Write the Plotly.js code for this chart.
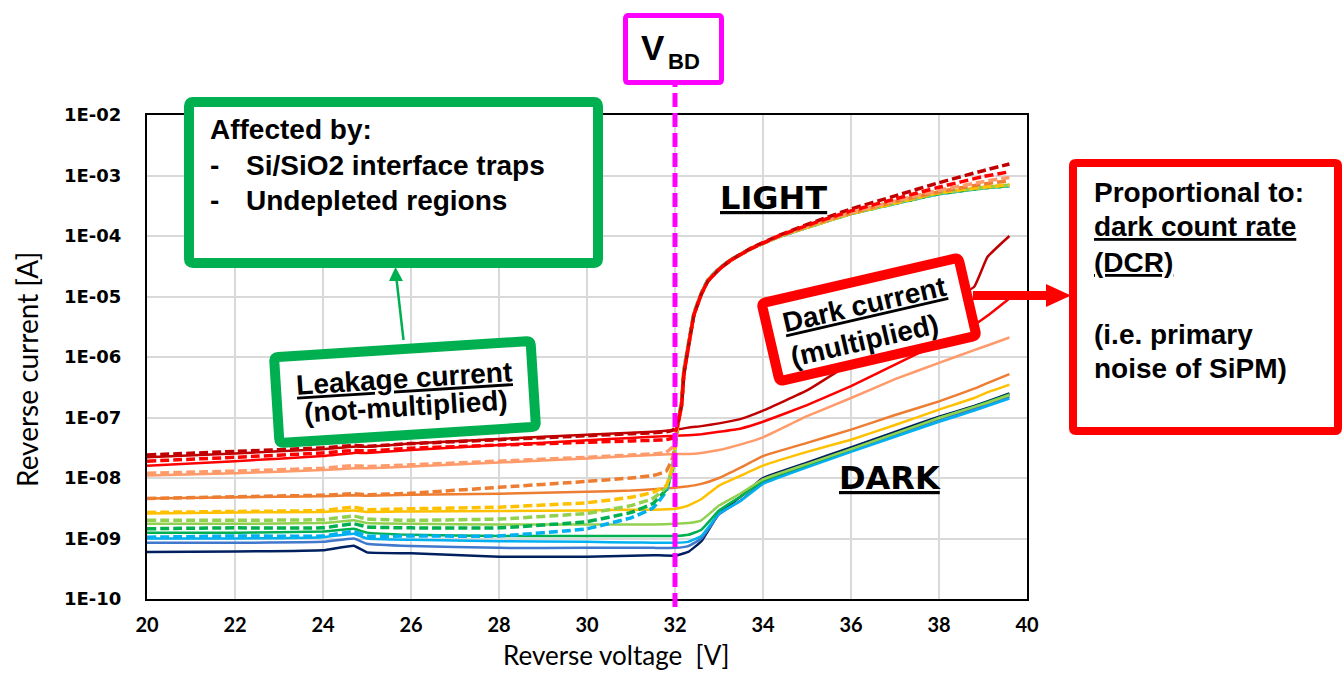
<!DOCTYPE html>
<html>
<head>
<meta charset="utf-8">
<script src="https://cdn.plot.ly/plotly-3.0.1.min.js"></script>
<style>
  html, body { margin: 0; padding: 0; background: #ffffff; }
  #chart { width: 1342px; height: 673px; }
</style>
</head>
<body>
<div id="chart"></div>
<script>
// ---- Reverse-bias I-V data of the SiPM samples (A vs V) ----

// breakdown voltage marker
const breakdownVoltage = 32;

// voltage grid of the illuminated (LIGHT) sweeps
const voltageLight = [20, 22, 24, 24.7, 25, 26, 28, 30, 31, 31.5, 31.8, 31.95, 32.05, 32.15, 32.2, 32.3,
  32.43, 32.6, 32.75, 33, 33.25, 33.75, 34.4, 35.2, 36, 37, 38, 39, 39.6];

// voltage grid of the DARK sweeps
const voltageDark = [20, 22, 24, 24.7, 25, 26, 28, 30, 31, 31.5, 32, 32.3, 32.6, 33, 33.5, 34, 35, 36, 37,
  38, 38.8, 39.1, 39.6];

// LIGHT sweeps (dashed)
const darkRedLight = [2.4e-8, 2.75e-8, 3.15e-8, 3.45e-8, 3.35e-8, 3.7e-8, 4.3e-8, 5.0e-8, 5.4e-8, 5.6e-8,
  5.8e-8, 6.2e-8, 7.5e-8, 1.6e-7, 5e-7, 1.4e-6, 4.9e-6, 1.1e-5, 1.8e-5, 2.8e-5, 3.9e-5, 6.4e-5, 1.05e-4,
  1.75e-4, 2.8e-4, 4.6e-4, 7.6e-4, 1.2e-3, 1.55e-3];
const redLight = [1.9e-8, 2.2e-8, 2.6e-8, 2.85e-8, 2.8e-8, 3.1e-8, 3.5e-8, 3.9e-8, 4.1e-8, 4.2e-8, 4.3e-8,
  4.6e-8, 7e-8, 1.6e-7, 5e-7, 1.4e-6, 4.9e-6, 1.1e-5, 1.8e-5, 2.8e-5, 3.9e-5, 6.3e-5, 1.03e-4, 1.68e-4,
  2.6e-4, 4.1e-4, 6.4e-4, 9.6e-4, 1.15e-3];
const salmonLight = [1.2e-8, 1.3e-8, 1.45e-8, 1.6e-8, 1.55e-8, 1.65e-8, 1.9e-8, 2.2e-8, 2.4e-8, 2.5e-8,
  2.65e-8, 3.3e-8, 6.5e-8, 1.7e-7, 5.2e-7, 1.45e-6, 5e-6, 1.1e-5, 1.8e-5, 2.8e-5, 3.9e-5, 6.3e-5, 1.02e-4,
  1.63e-4, 2.45e-4, 3.8e-4, 5.7e-4, 7.9e-4, 9.3e-4];
const orangeLight = [4.6e-9, 4.9e-9, 5.2e-9, 5.5e-9, 5.3e-9, 5.6e-9, 7.0e-9, 8.8e-9, 1.0e-8, 1.1e-8, 1.3e-8,
  2.2e-8, 6.5e-8, 1.7e-7, 5.2e-7, 1.45e-6, 5e-6, 1.1e-5, 1.8e-5, 2.8e-5, 3.9e-5, 6.3e-5, 1.01e-4, 1.6e-4,
  2.4e-4, 3.7e-4, 5.4e-4, 7.2e-4, 8.2e-4];
const yellowLight = [2.7e-9, 2.8e-9, 2.9e-9, 3.3e-9, 3.0e-9, 3.1e-9, 3.3e-9, 3.9e-9, 4.8e-9, 5.8e-9, 7.5e-9,
  1.6e-8, 6.5e-8, 1.8e-7, 5.5e-7, 1.5e-6, 5.1e-6, 1.12e-5, 1.85e-5, 2.85e-5, 3.95e-5, 6.3e-5, 1.0e-4,
  1.55e-4, 2.35e-4, 3.5e-4, 5.2e-4, 6.4e-4, 7.0e-4];
const lightGreenLight = [2.0e-9, 2.0e-9, 2.05e-9, 2.35e-9, 2.1e-9, 2.0e-9, 2.1e-9, 2.6e-9, 3.5e-9, 4.6e-9,
  7.0e-9, 1.5e-8, 6.5e-8, 1.8e-7, 5.5e-7, 1.5e-6, 5.1e-6, 1.12e-5, 1.85e-5, 2.85e-5, 3.95e-5, 6.3e-5,
  1.0e-4, 1.55e-4, 2.35e-4, 3.5e-4, 5.1e-4, 6.3e-4, 6.9e-4];
const greenLight = [1.45e-9, 1.5e-9, 1.5e-9, 1.75e-9, 1.55e-9, 1.5e-9, 1.5e-9, 1.9e-9, 2.7e-9, 3.8e-9,
  6.5e-9, 1.5e-8, 6.5e-8, 1.8e-7, 5.5e-7, 1.5e-6, 5.1e-6, 1.12e-5, 1.85e-5, 2.85e-5, 3.95e-5, 6.3e-5,
  1.0e-4, 1.55e-4, 2.35e-4, 3.45e-4, 5.0e-4, 6.2e-4, 6.8e-4];
const lightBlueLight = [1.05e-9, 1.1e-9, 1.1e-9, 1.3e-9, 1.1e-9, 1.1e-9, 1.1e-9, 1.45e-9, 2.2e-9, 3.2e-9,
  6.0e-9, 1.6e-8, 7e-8, 1.9e-7, 6e-7, 1.6e-6, 5.3e-6, 1.15e-5, 1.9e-5, 2.9e-5, 4.0e-5, 6.3e-5, 1.0e-4,
  1.55e-4, 2.35e-4, 3.45e-4, 5.0e-4, 6.2e-4, 6.7e-4];

// DARK sweeps (solid)
const darkRedDark = [2.2e-8, 2.55e-8, 3.0e-8, 3.3e-8, 3.3e-8, 3.7e-8, 4.4e-8, 5.2e-8, 5.6e-8, 5.8e-8, 6.2e-8,
  6.8e-8, 7.2e-8, 8.0e-8, 9.5e-8, 1.3e-7, 2.8e-7, 8.0e-7, 2.3e-6, 6.6e-6, 1.45e-5, 4.5e-5, 1.0e-4];
const redDark = [1.6e-8, 1.9e-8, 2.3e-8, 2.6e-8, 2.6e-8, 2.9e-8, 3.5e-8, 4.2e-8, 4.6e-8, 4.8e-8, 5.0e-8,
  5.1e-8, 5.3e-8, 5.8e-8, 6.6e-8, 8.5e-8, 1.6e-7, 3.3e-7, 7.5e-7, 1.7e-6, 3.4e-6, 4.8e-6, 9.3e-6];
const salmonDark = [1.1e-8, 1.2e-8, 1.35e-8, 1.45e-8, 1.45e-8, 1.55e-8, 1.8e-8, 2.1e-8, 2.3e-8, 2.4e-8,
  2.5e-8, 2.5e-8, 2.6e-8, 2.9e-8, 3.6e-8, 4.7e-8, 1.05e-7, 2.1e-7, 4.3e-7, 8.0e-7, 1.3e-6, 1.55e-6, 2.1e-6];
const orangeDark = [4.6e-9, 4.8e-9, 5.0e-9, 5.2e-9, 5.1e-9, 5.3e-9, 5.5e-9, 5.9e-9, 6.2e-9, 6.5e-9, 6.9e-9,
  7.3e-9, 8.0e-9, 1.0e-8, 1.5e-8, 2.3e-8, 3.8e-8, 6.3e-8, 1.1e-7, 1.85e-7, 3.0e-7, 3.7e-7, 5.2e-7];
const yellowDark = [2.6e-9, 2.7e-9, 2.75e-9, 2.9e-9, 2.75e-9, 2.8e-9, 2.85e-9, 2.9e-9, 3.0e-9, 3.0e-9, 3.1e-9,
  3.5e-9, 4.5e-9, 7.5e-9, 1.1e-8, 1.6e-8, 2.7e-8, 4.3e-8, 7.5e-8, 1.35e-7, 2.1e-7, 2.6e-7, 3.5e-7];
const lightGreenDark = [1.75e-9, 1.75e-9, 1.8e-9, 2.0e-9, 1.8e-9, 1.75e-9, 1.7e-9, 1.7e-9, 1.7e-9, 1.7e-9,
  1.75e-9, 1.8e-9, 2.0e-9, 3.5e-9, 5.6e-9, 9.5e-9, 1.7e-8, 3.0e-8, 5.4e-8, 9.8e-8, 1.5e-7, 1.75e-7, 2.35e-7];
const greenDark = [1.25e-9, 1.25e-9, 1.3e-9, 1.45e-9, 1.25e-9, 1.15e-9, 1.1e-9, 1.1e-9, 1.1e-9, 1.1e-9,
  1.1e-9, 1.15e-9, 1.4e-9, 2.9e-9, 5.0e-9, 9.0e-9, 1.65e-8, 3.0e-8, 5.4e-8, 9.8e-8, 1.5e-7, 1.8e-7, 2.4e-7];
const lightBlueDark = [1.0e-9, 1.0e-9, 1.05e-9, 1.2e-9, 1.0e-9, 9.5e-10, 9.0e-10, 8.8e-10, 8.6e-10, 8.5e-10,
  8.5e-10, 8.8e-10, 1.1e-9, 2.6e-9, 4.2e-9, 8.0e-9, 1.5e-8, 2.7e-8, 4.8e-8, 8.5e-8, 1.3e-7, 1.55e-7, 2.05e-7];
const blueDark = [8.5e-10, 8.5e-10, 8.8e-10, 1.0e-9, 8.2e-10, 7.5e-10, 7.0e-10, 7.0e-10, 7.0e-10, 7.0e-10,
  7.0e-10, 7.5e-10, 1.0e-9, 2.5e-9, 4.3e-9, 8.5e-9, 1.6e-8, 2.9e-8, 5.2e-8, 9.3e-8, 1.4e-7, 1.65e-7, 2.2e-7];
const navyDark = [6.0e-10, 6.1e-10, 6.4e-10, 7.6e-10, 5.9e-10, 5.7e-10, 5.0e-10, 5.0e-10, 5.2e-10, 5.3e-10,
  5.2e-10, 6.0e-10, 9.0e-10, 2.6e-9, 5.0e-9, 1.0e-8, 1.8e-8, 3.2e-8, 5.8e-8, 1.03e-7, 1.55e-7, 1.85e-7, 2.5e-7];

// y-axis decades and their labels
const currentTicks = [1e-10, 1e-9, 1e-8, 1e-7, 1e-6, 1e-5, 1e-4, 1e-3, 1e-2];
const currentTickLabels = ['1E-10', '1E-09', '1E-08', '1E-07', '1E-06', '1E-05', '1E-04', '1E-03', '1E-02'];

// ---- styling ----
const COLORS = {
  darkRed: '#C00000', red: '#FF0000', salmon: '#FF9A6A', orange: '#ED7D31', yellow: '#FFC000',
  lightGreen: '#92D050', green: '#00B050', lightBlue: '#00B0F0', blue: '#3F78CC', navy: '#002060'
};
const GREEN_BOX = '#00B050';
const RED_BOX = '#FF0000';
const MAGENTA = '#FF00FF';
const TEXT_FONT = 'Liberation Sans, Arial, sans-serif';

// plot area in page pixels
const PLOT = { left: 147, right: 1027, top: 115, bottom: 599 };
const W = 1342, H = 673;
const px = x => (x - PLOT.left) / (PLOT.right - PLOT.left);
const py = y => (PLOT.bottom - y) / (PLOT.bottom - PLOT.top);

// rounded rectangle (optionally rotated) as an SVG path in paper coordinates
function boxPath(cx, cy, w, h, r, angleDeg) {
  const a = (angleDeg || 0) * Math.PI / 180;
  const c = Math.cos(a), s = Math.sin(a);
  const P = (u, v) => {
    const x = cx + u * c - v * s, y = cy + u * s + v * c;
    return px(x).toFixed(5) + ',' + py(y).toFixed(5);
  };
  const hw = w / 2, hh = h / 2;
  return 'M' + P(-hw + r, -hh) + ' L' + P(hw - r, -hh) + ' Q' + P(hw, -hh) + ' ' + P(hw, -hh + r) +
    ' L' + P(hw, hh - r) + ' Q' + P(hw, hh) + ' ' + P(hw - r, hh) +
    ' L' + P(-hw + r, hh) + ' Q' + P(-hw, hh) + ' ' + P(-hw, hh - r) +
    ' L' + P(-hw, -hh + r) + ' Q' + P(-hw, -hh) + ' ' + P(-hw + r, -hh) + ' Z';
}
// point offset (u, v) in a rotated frame centred on (cx, cy)
function rotPoint(cx, cy, u, v, angleDeg) {
  const a = angleDeg * Math.PI / 180;
  return [cx + u * Math.cos(a) - v * Math.sin(a), cy + u * Math.sin(a) + v * Math.cos(a)];
}
function polyPath(points) {
  return points.map((p, i) => (i ? 'L' : 'M') + px(p[0]).toFixed(5) + ',' + py(p[1]).toFixed(5)).join(' ') + ' Z';
}
function textNote(text, x, y, size, opts) {
  opts = opts || {};
  return {
    xref: 'paper', yref: 'paper', x: px(x), y: py(y), text: text, showarrow: false,
    xanchor: opts.xanchor || 'center', yanchor: 'middle', borderpad: 0,
    textangle: opts.angle || 0,
    font: { family: opts.family || TEXT_FONT, size: size, color: '#000000', weight: opts.weight || 'bold' }
  };
}

// ---- traces ----
function darkTrace(values, color) {
  return { x: voltageDark, y: values, type: 'scatter', mode: 'lines', hoverinfo: 'skip',
    line: { color: color, width: 2.5, shape: 'spline', smoothing: 0.3 } };
}
function lightTrace(values, color) {
  return { x: voltageLight, y: values, type: 'scatter', mode: 'lines', hoverinfo: 'skip',
    line: { color: color, width: 3.5, dash: '9px,4px', shape: 'spline', smoothing: 0.3 } };
}

const traces = [
  darkTrace(navyDark, COLORS.navy),
  darkTrace(blueDark, COLORS.blue),
  darkTrace(lightBlueDark, COLORS.lightBlue),
  darkTrace(greenDark, COLORS.green),
  darkTrace(lightGreenDark, COLORS.lightGreen),
  darkTrace(yellowDark, COLORS.yellow),
  darkTrace(orangeDark, COLORS.orange),
  darkTrace(salmonDark, COLORS.salmon),
  darkTrace(redDark, COLORS.red),
  darkTrace(darkRedDark, COLORS.darkRed),
  lightTrace(lightBlueLight, COLORS.lightBlue),
  lightTrace(greenLight, COLORS.green),
  lightTrace(lightGreenLight, COLORS.lightGreen),
  lightTrace(yellowLight, COLORS.yellow),
  lightTrace(orangeLight, COLORS.orange),
  lightTrace(salmonLight, COLORS.salmon),
  lightTrace(darkRedLight, COLORS.darkRed),
  lightTrace(redLight, COLORS.red)
];

// ---- callout boxes and arrows ----
const LEAK = { cx: 405, cy: 392, w: 257, h: 86, angle: -3.6 };
const DARKBOX = { cx: 869, cy: 319.5, w: 202, h: 80, angle: -13 };

const shapes = [
  // breakdown voltage marker
  { type: 'line', xref: 'x', yref: 'paper', x0: breakdownVoltage, x1: breakdownVoltage,
    y0: py(607), y1: py(84), layer: 'above', line: { color: MAGENTA, width: 5, dash: '14px,6px' } },
  { type: 'path', xref: 'paper', yref: 'paper', layer: 'above', path: boxPath(673.5, 49, 96, 67, 3, 0),
    fillcolor: '#ffffff', line: { color: MAGENTA, width: 5 } },
  // "Affected by" box
  { type: 'path', xref: 'paper', yref: 'paper', layer: 'above', path: boxPath(393.5, 182.5, 409, 161, 4, 0),
    fillcolor: '#ffffff', line: { color: GREEN_BOX, width: 10 } },
  // arrow from leakage box up to "Affected by"
  { type: 'line', xref: 'paper', yref: 'paper', layer: 'above', x0: px(403.5), y0: py(340), x1: px(396.5), y1: py(279),
    line: { color: GREEN_BOX, width: 2.5 } },
  { type: 'path', xref: 'paper', yref: 'paper', layer: 'above',
    path: polyPath([[389, 281], [403, 281], [395.5, 267]]), fillcolor: GREEN_BOX, line: { width: 0 } },
  // leakage current box
  { type: 'path', xref: 'paper', yref: 'paper', layer: 'above',
    path: boxPath(LEAK.cx, LEAK.cy, LEAK.w, LEAK.h, 4, LEAK.angle),
    fillcolor: '#ffffff', line: { color: GREEN_BOX, width: 10 } },
  // dark current box
  { type: 'path', xref: 'paper', yref: 'paper', layer: 'above',
    path: boxPath(DARKBOX.cx, DARKBOX.cy, DARKBOX.w, DARKBOX.h, 4, DARKBOX.angle),
    fillcolor: '#ffffff', line: { color: RED_BOX, width: 10 } },
  // arrow to the DCR box
  { type: 'line', xref: 'paper', yref: 'paper', layer: 'above', x0: px(973), y0: py(295.5), x1: px(1050), y1: py(295.5),
    line: { color: RED_BOX, width: 9 } },
  { type: 'path', xref: 'paper', yref: 'paper', layer: 'above',
    path: polyPath([[1046, 284], [1046, 307], [1071, 295.5]]), fillcolor: RED_BOX, line: { width: 0 } },
  // DCR box
  { type: 'path', xref: 'paper', yref: 'paper', layer: 'above', path: boxPath(1205.5, 297, 265, 268, 3, 0),
    fillcolor: '#ffffff', line: { color: RED_BOX, width: 8 } }
];

const leak1 = rotPoint(LEAK.cx, LEAK.cy, 0, -14, LEAK.angle);
const leak2 = rotPoint(LEAK.cx, LEAK.cy, 0, 15, LEAK.angle);
const dark1 = rotPoint(DARKBOX.cx, DARKBOX.cy, -1, -16, DARKBOX.angle);
const dark2 = rotPoint(DARKBOX.cx, DARKBOX.cy, -9, 19, DARKBOX.angle);
const NB = '\u00a0';

const annotations = [
  // axis titles
  textNote('Reverse current [A]', 27, 370, 28, { angle: -90, family: 'Lato, sans-serif', weight: 'normal' }),
  textNote('Reverse voltage' + NB + NB + '[V]', 616, 655, 26, { family: 'Lato, sans-serif', weight: 'normal' }),
  // breakdown label
  textNote('V', 653, 47, 35),
  textNote('BD', 684, 61, 22),
  // "Affected by" box
  textNote('Affected by:', 209, 129, 28, { xanchor: 'left' }),
  textNote('-', 209, 165, 28, { xanchor: 'left' }),
  textNote('Si/SiO2 interface traps', 245, 165, 28, { xanchor: 'left' }),
  textNote('-', 209, 200, 28, { xanchor: 'left' }),
  textNote('Undepleted regions', 245, 200, 28, { xanchor: 'left' }),
  // leakage box
  textNote('<u>Leakage current</u>', leak1[0], leak1[1], 28, { angle: LEAK.angle }),
  textNote('(not-multiplied)', leak2[0], leak2[1], 28, { angle: LEAK.angle }),
  // dark current box
  textNote('<u>Dark current</u>', dark1[0], dark1[1], 28, { angle: DARKBOX.angle }),
  textNote('(multiplied)', dark2[0], dark2[1], 28, { angle: DARKBOX.angle }),
  // DCR box
  textNote('Proportional to:', 1093, 192, 28, { xanchor: 'left' }),
  textNote('<u>dark count rate</u>', 1093, 226, 28, { xanchor: 'left' }),
  textNote('<u>(DCR)</u>', 1093, 262, 28, { xanchor: 'left' }),
  textNote('(i.e. primary', 1093, 334, 28, { xanchor: 'left' }),
  textNote('noise of SiPM)', 1093, 368, 28, { xanchor: 'left' }),
  // regime labels
  textNote('<u>LIGHT</u>', 773.5, 198, 32, { family: 'DejaVu Sans, sans-serif' }),
  textNote('<u>DARK</u>', 890, 478, 32, { family: 'DejaVu Sans, sans-serif' })
];

const layout = {
  width: W, height: H,
  margin: { l: PLOT.left, r: W - PLOT.right, t: PLOT.top, b: H - PLOT.bottom, pad: 0 },
  paper_bgcolor: '#ffffff', plot_bgcolor: '#ffffff',
  showlegend: false,
  xaxis: {
    range: [20, 40], tick0: 20, dtick: 2, ticks: '', ticklabelstandoff: 7,
    showgrid: true, gridcolor: '#D9D9D9', gridwidth: 2, zeroline: false,
    showline: true, linecolor: '#000000', linewidth: 2, mirror: true,
    tickfont: { family: 'Lato, sans-serif', size: 20, color: '#000000', weight: 'bold' }
  },
  yaxis: {
    type: 'log', range: [-10, -2], tickvals: currentTicks, ticktext: currentTickLabels,
    ticks: '', ticklabelstandoff: 20,
    showgrid: true, gridcolor: '#D9D9D9', gridwidth: 2, zeroline: false,
    showline: true, linecolor: '#000000', linewidth: 2, mirror: true,
    tickfont: { family: 'DejaVu Sans, sans-serif', size: 18, color: '#000000', weight: 'bold' }
  },
  shapes: shapes,
  annotations: annotations
};

Plotly.newPlot('chart', traces, layout, { staticPlot: true, displayModeBar: false });
</script>
</body>
</html>
